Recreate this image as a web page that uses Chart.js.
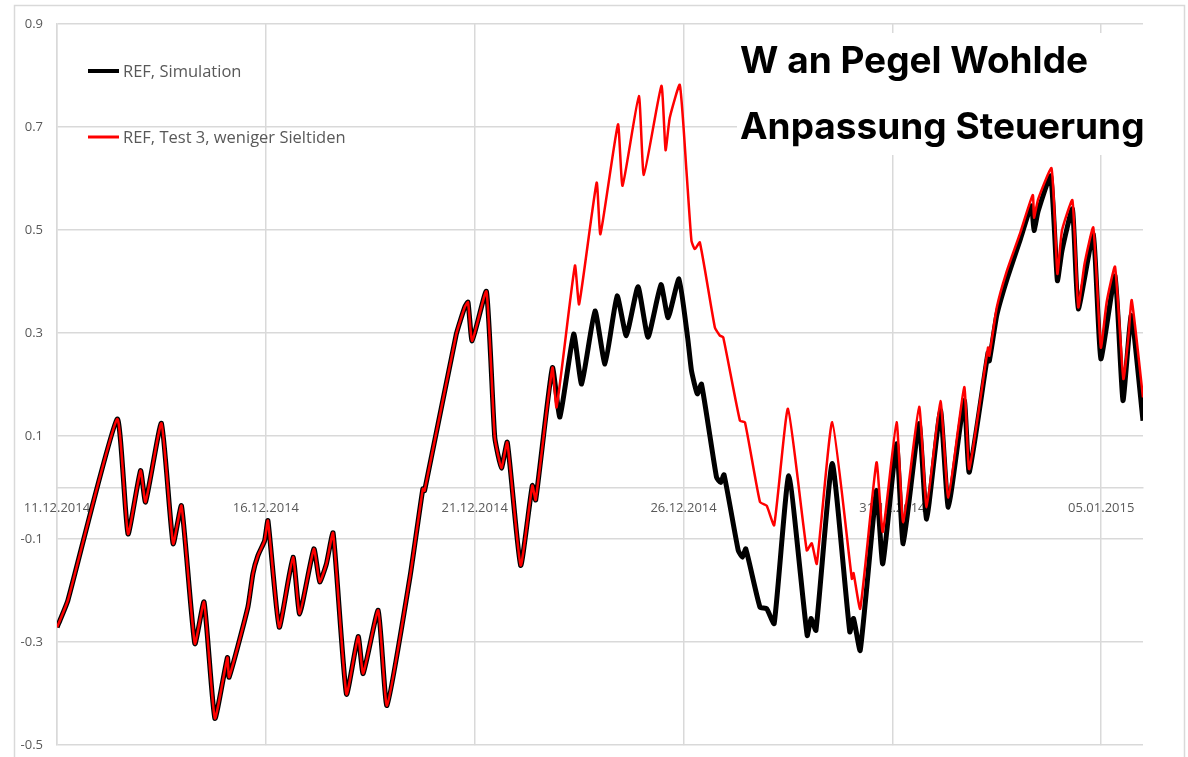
<!DOCTYPE html>
<html>
<head>
<meta charset="utf-8">
<script src="https://cdn.jsdelivr.net/npm/chart.js@4.4.1/dist/chart.umd.min.js"></script>
<style>
    html, body { margin: 0; padding: 0; background: #fff; overflow: hidden; }
    #wrap { width: 1188px; height: 757px; overflow: hidden; }
</style>
</head>
<body>
<div id="wrap"><canvas id="pegel" width="1188" height="767"></canvas></div>
<script>
//Days since 11.12.2014 and water level (m)
const simDays = [0.00, 0.07, 0.26, 1.44, 1.70, 2.00, 2.12, 2.50, 2.78, 2.98, 3.30, 3.52, 3.78, 4.08, 4.12, 4.57, 4.69, 4.81, 4.97, 5.05,
    5.32, 5.65, 5.81, 6.15, 6.29, 6.45, 6.61, 6.93, 7.21, 7.33, 7.69, 7.90, 8.45, 8.76, 8.80, 9.56, 9.76, 9.84, 9.94, 10.28,
    10.48, 10.64, 10.78, 11.10, 11.38, 11.46, 11.86, 12.04, 12.37, 12.56, 12.88, 13.12, 13.41, 13.63, 13.91, 14.15, 14.46, 14.63, 14.89, 15.10,
    15.19, 15.33, 15.43, 15.79, 15.89, 15.97, 16.31, 16.41, 16.49, 16.83, 16.99, 17.17, 17.52, 17.96, 18.05, 18.17, 18.56, 18.98, 19.07, 19.23,
    19.62, 19.77, 20.10, 20.26, 20.64, 20.82, 21.15, 21.34, 21.72, 21.84, 22.29, 22.32, 22.50, 22.73, 23.05, 23.33, 23.39, 23.49, 23.79, 23.95,
    24.06, 24.31, 24.45, 24.81, 24.99, 25.33, 25.52, 25.72, 26.00];
const simLevels = [-0.271, -0.258, -0.219, 0.133, -0.090, 0.033, -0.028, 0.125, -0.109, -0.035, -0.303, -0.222, -0.448, -0.330, -0.368, -0.232, -0.167, -0.132, -0.103, -0.064,
    -0.271, -0.135, -0.245, -0.119, -0.183, -0.148, -0.088, -0.401, -0.289, -0.361, -0.238, -0.423, -0.174, -0.002, -0.006, 0.298, 0.350, 0.360, 0.285, 0.381,
    0.098, 0.038, 0.088, -0.151, 0.004, -0.024, 0.233, 0.137, 0.298, 0.201, 0.343, 0.240, 0.372, 0.295, 0.390, 0.292, 0.394, 0.330, 0.405, 0.290,
    0.227, 0.182, 0.201, 0.020, 0.010, 0.025, -0.122, -0.135, -0.119, -0.232, -0.235, -0.264, 0.023, -0.287, -0.254, -0.277, 0.047, -0.280, -0.254, -0.316,
    -0.006, -0.148, 0.085, -0.109, 0.124, -0.061, 0.150, -0.038, 0.169, 0.030, 0.262, 0.246, 0.335, 0.401, 0.479, 0.547, 0.499, 0.537, 0.605, 0.402,
    0.460, 0.541, 0.347, 0.492, 0.250, 0.411, 0.169, 0.334, 0.130];

const testDays = [0.00, 0.07, 0.26, 1.44, 1.70, 2.00, 2.12, 2.50, 2.78, 2.98, 3.30, 3.52, 3.78, 4.08, 4.12, 4.57, 4.69, 4.81, 4.97, 5.05,
    5.32, 5.65, 5.81, 6.15, 6.29, 6.45, 6.61, 6.93, 7.21, 7.33, 7.69, 7.90, 8.45, 8.76, 8.80, 9.56, 9.76, 9.84, 9.94, 10.28,
    10.48, 10.64, 10.78, 11.10, 11.38, 11.46, 11.86, 11.96, 12.40, 12.50, 12.92, 13.01, 13.43, 13.54, 13.93, 14.05, 14.47, 14.57, 14.67, 14.91,
    15.07, 15.19, 15.27, 15.39, 15.75, 15.87, 15.95, 16.35, 16.47, 16.83, 16.99, 17.17, 17.50, 17.95, 18.07, 18.19, 18.56, 19.03, 19.07, 19.23,
    19.62, 19.77, 20.10, 20.26, 20.64, 20.82, 21.15, 21.34, 21.72, 21.84, 22.29, 22.32, 22.50, 22.73, 23.05, 23.36, 23.39, 23.49, 23.81, 23.95,
    24.06, 24.31, 24.45, 24.60, 24.81, 24.99, 25.13, 25.33, 25.53, 25.65, 25.73, 26.00];
const testLevels = [-0.271, -0.258, -0.219, 0.133, -0.090, 0.033, -0.028, 0.125, -0.109, -0.035, -0.303, -0.222, -0.448, -0.330, -0.368, -0.232, -0.167, -0.132, -0.103, -0.064,
    -0.271, -0.135, -0.245, -0.119, -0.183, -0.148, -0.088, -0.401, -0.289, -0.361, -0.238, -0.423, -0.174, -0.002, -0.006, 0.298, 0.350, 0.360, 0.285, 0.381,
    0.098, 0.038, 0.088, -0.151, 0.004, -0.024, 0.233, 0.156, 0.431, 0.356, 0.592, 0.492, 0.705, 0.586, 0.760, 0.607, 0.780, 0.655, 0.718, 0.782,
    0.615, 0.479, 0.463, 0.476, 0.311, 0.295, 0.292, 0.130, 0.127, -0.028, -0.035, -0.073, 0.153, -0.122, -0.108, -0.148, 0.127, -0.177, -0.166, -0.235,
    0.049, -0.086, 0.127, -0.067, 0.157, -0.038, 0.168, -0.019, 0.195, 0.036, 0.272, 0.256, 0.350, 0.418, 0.492, 0.568, 0.524, 0.560, 0.620, 0.415,
    0.499, 0.558, 0.350, 0.434, 0.505, 0.272, 0.360, 0.429, 0.211, 0.292, 0.364, 0.175];

const xTickLabels = ["11.12.2014", "16.12.2014", "21.12.2014", "26.12.2014", "31.12.2014", "05.01.2015"];
const seriesNames = ["REF, Simulation", "REF, Test 3, weniger Sieltiden"];
const titleLines = ["W an Pegel Wohlde", "Anpassung Steuerung"];

const gridColor = "#d9d9d9";
const textColor = "#595959";

const toPoints = (days, levels) => days.map((d, i) => ({ x: d, y: levels[i] }));

//Frame, legend and title box
const overlay = {
    id: "overlay",
    beforeDraw(chart) {
        const ctx = chart.ctx;
        ctx.save();
        ctx.fillStyle = "#fff";
        ctx.fillRect(0, 0, chart.width, chart.height);
        ctx.strokeStyle = gridColor;
        ctx.lineWidth = 1.5;
        ctx.strokeRect(14.5, 5.5, 1170, 780);
        ctx.restore();
    },
    afterDraw(chart) {
        const ctx = chart.ctx;
        ctx.save();
        //legend
        const rows = [{ y: 71, color: "#000", w: 4 }, { y: 137, color: "#ff0000", w: 3 }];
        ctx.font = "16.5px 'Open Sans'";
        ctx.textBaseline = "middle";
        rows.forEach((r, i) => {
            ctx.strokeStyle = r.color;
            ctx.lineWidth = r.w;
            ctx.beginPath();
            ctx.moveTo(88, r.y);
            ctx.lineTo(119, r.y);
            ctx.stroke();
            ctx.fillStyle = textColor;
            ctx.fillText(seriesNames[i], 123, r.y + 1);
        });
        //title
        ctx.fillStyle = "#fff";
        ctx.fillRect(737, 33, 413, 122);
        ctx.fillStyle = "#000";
        ctx.font = "bold 37px Inter";
        ctx.textBaseline = "alphabetic";
        ctx.fillText(titleLines[0], 740, 73);
        ctx.fillText(titleLines[1], 740, 139);
        ctx.restore();
    }
};

new Chart(document.getElementById("pegel"), {
    type: "line",
    data: {
        datasets: [
            {
                label: seriesNames[0],
                data: toPoints(simDays, simLevels),
                borderColor: "#000",
                borderWidth: 5,
                pointRadius: 0,
                tension: 0.15,
                order: 2
            },
            {
                label: seriesNames[1],
                data: toPoints(testDays, testLevels),
                borderColor: "#ff0000",
                borderWidth: 2.5,
                pointRadius: 0,
                tension: 0.15,
                order: 1
            }
        ]
    },
    options: {
        responsive: false,
        animation: false,
        layout: { padding: { left: 0, top: 24, right: 45, bottom: 12 } },
        plugins: {
            legend: { display: false },
            tooltip: { enabled: false }
        },
        scales: {
            x: {
                type: "linear",
                position: { y: 0 },
                min: 0,
                max: 26,
                ticks: {
                    stepSize: 5,
                    padding: 13,
                    color: textColor,
                    font: { family: "'Open Sans'", size: 13 },
                    maxRotation: 0,
                    callback: (v) => xTickLabels[v / 5]
                },
                grid: { color: gridColor, lineWidth: 1.5, drawTicks: false },
                border: { color: gridColor, width: 1.5 }
            },
            y: {
                min: -0.5,
                max: 0.9,
                ticks: {
                    stepSize: 0.2,
                    padding: 14,
                    color: textColor,
                    font: { family: "'Open Sans'", size: 13 },
                    callback: (v) => v.toFixed(1)
                },
                grid: { color: gridColor, lineWidth: 1.5, drawTicks: false },
                border: { color: gridColor, width: 1.5 },
                afterFit: (scale) => { scale.width = 57; }
            }
        }
    },
    plugins: [overlay]
});
</script>
</body>
</html>
